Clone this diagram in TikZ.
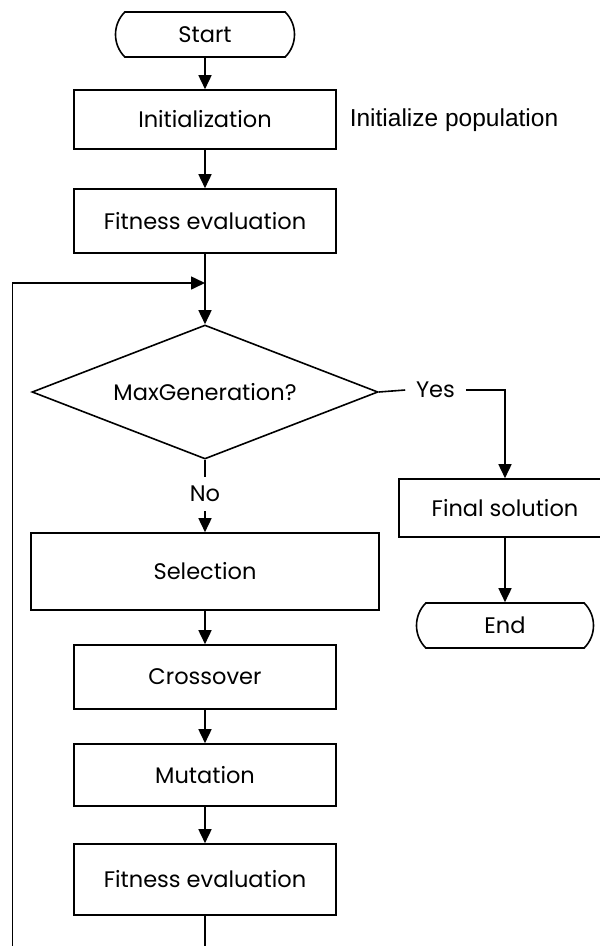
\documentclass[tikz,border=0pt]{standalone}
\usepackage{fontspec}
\setmainfont{Poppins}
\newfontfamily\notefont{Liberation Sans}
\usetikzlibrary{arrows.meta,shapes.geometric,shapes.misc}

\begin{document}
\begin{tikzpicture}[x=1pt,y=-1pt,
  line width=1.6pt,
  every node/.style={font=\fontsize{22.5}{26}\selectfont, inner sep=0pt},
  proc/.style={draw, rectangle, minimum width=262pt, minimum height=#1},
  proc/.default=64pt,
  term/.style={draw, rounded rectangle, rounded rectangle arc length=90,
               minimum width=#1, minimum height=45pt},
  term/.default=179pt,
  decision/.style={draw, diamond, aspect=2.58, inner sep=0pt,
                   minimum width=346pt, minimum height=134pt},
  flow/.style={-{Triangle[length=14pt,width=13pt]}},
  plainlabel/.style={draw=none},
]
\useasboundingbox (0,0) rectangle (600,946);
\clip (0,0) rectangle (600,946);

% main column
\node[term=179pt] (start) at (205,34.5) {Start};
\node[proc=59pt] (init) at (205,119.5) {Initialization};
\node[plainlabel, anchor=west, font=\notefont\fontsize{24.5}{28}\selectfont] (note) at (349,120) {Initialize population};
\node[proc=64pt] (fit1) at (205,221) {Fitness evaluation};
\coordinate (join) at (205,283);
\node[decision] (dia) at (205,392) {MaxGeneration?};
\node[plainlabel, minimum height=33pt] (no) at (205,494) {No};
\node[proc=77pt, minimum width=348pt] (sel) at (205,571.5) {Selection};
\node[proc=64pt] (cross) at (205,677) {Crossover};
\node[proc=62pt] (mut) at (205,775) {Mutation};
\node[proc=71pt] (fit2) at (205,879.5) {Fitness evaluation};

% exit branch
\node[plainlabel, minimum width=59pt] (yes) at (435.5,390) {Yes};
\node[proc=58pt, minimum width=212pt] (final) at (505,508) {Final solution};
\node[term=177pt] (end) at (505,625.5) {End};

% loop ends at the lower edge
\coordinate (cutL) at (12.5,946);
\coordinate (cutR) at (205,946);

% connectors
\draw[flow] (start) -- (init);
\draw[flow] (init) -- (fit1);
\draw[flow] (fit1) -- (dia);
\draw (dia.east) -- (yes.west);
\draw[flow] (yes.east) -| (final.north);
\draw[flow] (final) -- (end);
\draw (dia.south) -- (no.north);
\draw[flow] (no.south) -- (sel.north);
\draw[flow] (sel) -- (cross);
\draw[flow] (cross) -- (mut);
\draw[flow] (mut) -- (fit2);
\draw (fit2.south) -- (cutR);
\draw[flow] (cutL) |- (join);
\end{tikzpicture}
\end{document}
